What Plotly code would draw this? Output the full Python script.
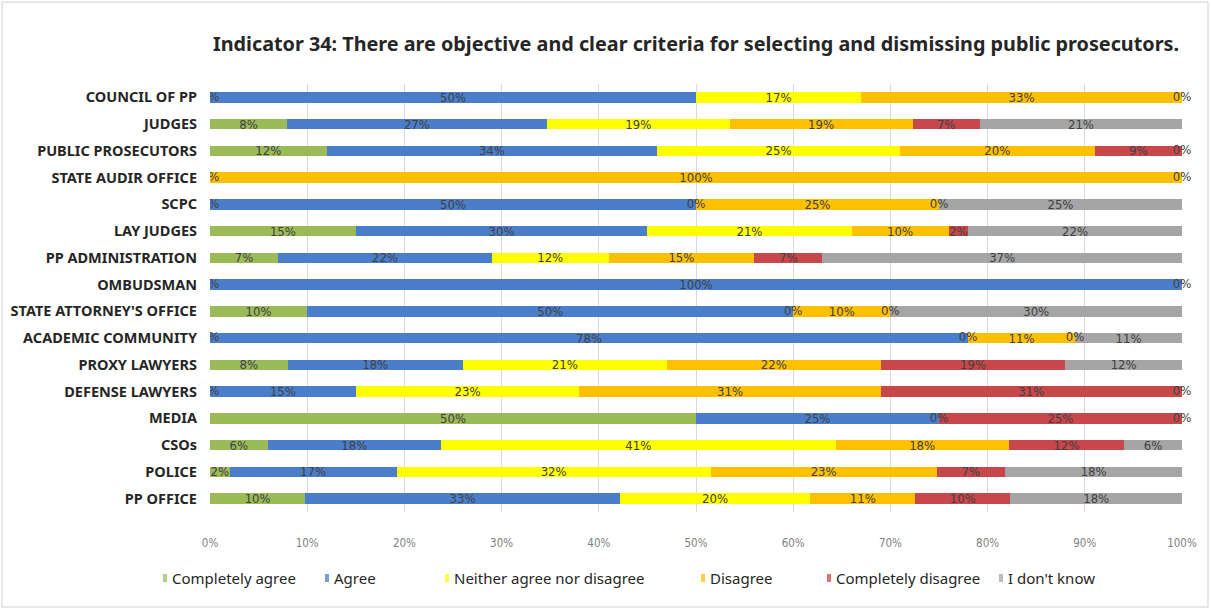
import plotly.graph_objects as go

# Survey responses per stakeholder group (percent of respondents); None = no answer recorded
categories = [
    "COUNCIL OF PP", "JUDGES", "PUBLIC PROSECUTORS", "STATE AUDIR OFFICE", "SCPC",
    "LAY JUDGES", "PP ADMINISTRATION", "OMBUDSMAN", "STATE ATTORNEY'S OFFICE",
    "ACADEMIC COMMUNITY", "PROXY LAWYERS", "DEFENSE LAWYERS", "MEDIA", "CSOs",
    "POLICE", "PP OFFICE",
]
completely_agree = [0, 8, 12, 0, 0, 15, 7, 0, 10, 0, 8, 0, 50, 6, 2, 10]
agree = [50, 27, 34, None, 50, 30, 22, 100, 50, 78, 18, 15, 25, 18, 17, 33]
neither = [17, 19, 25, None, 0, 21, 12, None, 0, 0, 21, 23, 0, 41, 32, 20]
disagree = [33, 19, 20, 100, 25, 10, 15, None, 10, 11, 22, 31, None, 18, 23, 11]
completely_disagree = [0, 7, 9, 0, 0, 2, 7, None, 0, 0, 19, 31, 25, 12, 7, 10]
dont_know = [None, 21, 0, None, 25, 22, 37, 0, 30, 11, 12, 0, 0, 6, 18, 18]

series_names = ["Completely agree", "Agree", "Neither agree nor disagree",
                "Disagree", "Completely disagree", "I don't know"]
series_values = [completely_agree, agree, neither, disagree, completely_disagree, dont_know]
series_colors = ["#9BBB59", "#4A7ECB", "#FFFF00", "#FFC000", "#C8474A", "#A5A5A5"]
x_ticks = list(range(0, 101, 10))
x_tick_labels = [f"{t}%" for t in x_ticks]

W, H = 1211, 610
ML, MR, MT, MB = 210, 29, 84, 98
PW, PH = W - ML - MR, H - MT - MB

NARROW = "Liberation Sans Narrow, DejaVu Sans Condensed, Arial Narrow, sans-serif"
MAIN = "Noto Sans, Open Sans, sans-serif"
LABEL_COLOR = "#404040"


def px_to_paper_x(px):
    return (px - ML) / PW


def px_to_paper_y(py):
    return (H - MB - py) / PH


fig = go.Figure()

for name, vals, color in zip(series_names, series_values, series_colors):
    texts = [f"{v}%" if (v is not None and v > 0) else "" for v in vals]
    fig.add_trace(go.Bar(
        name=name,
        y=categories,
        x=vals,
        orientation="h",
        marker=dict(color=color, line=dict(width=0)),
        text=texts,
        textposition="inside",
        insidetextanchor="middle",
        textangle=0,
        constraintext="none",
        textfont=dict(family=NARROW, size=13, color=LABEL_COLOR),
        showlegend=False,
        hoverinfo="skip",
    ))

# Labels for zero-valued answers, placed where the (empty) segment sits
edge_x, edge_y, mid_x, mid_y = [], [], [], []
for r, cat in enumerate(categories):
    row = [s[r] for s in series_values]
    total = sum(v for v in row if v is not None)
    running = 0
    for v in row:
        if v is None:
            continue
        if v == 0:
            pos = running / total * 100
            if pos == 0:
                edge_x.append(pos)
                edge_y.append(cat)
            else:
                mid_x.append(pos)
                mid_y.append(cat)
        running += v

for xs, ys, clip in [(edge_x, edge_y, True), (mid_x, mid_y, False)]:
    fig.add_trace(go.Scatter(
        x=xs, y=ys, mode="text", text=["0%"] * len(xs),
        textposition="middle center",
        textfont=dict(family=NARROW, size=13, color=LABEL_COLOR),
        cliponaxis=clip, showlegend=False, hoverinfo="skip",
    ))

# Legend row below the axis: small colour key followed by the series name
legend_text_x = [170, 332, 452, 708, 834, 1006]
legend_y = 578
shapes = [dict(
    type="rect", xref="paper", yref="paper",
    x0=px_to_paper_x(2), x1=px_to_paper_x(1208),
    y0=px_to_paper_y(607), y1=px_to_paper_y(2),
    line=dict(color="#D0D0D0", width=1), fillcolor="rgba(0,0,0,0)",
    layer="below",
)]
annotations = []
for name, color, tx in zip(series_names, series_colors, legend_text_x):
    shapes.append(dict(
        type="rect", xref="paper", yref="paper",
        x0=px_to_paper_x(tx - 7), x1=px_to_paper_x(tx - 3),
        y0=px_to_paper_y(legend_y + 4), y1=px_to_paper_y(legend_y - 4),
        line=dict(width=0), fillcolor=color, opacity=0.75,
    ))
    annotations.append(dict(
        text=name, xref="paper", yref="paper",
        x=px_to_paper_x(tx), y=px_to_paper_y(legend_y),
        xanchor="left", yanchor="middle", showarrow=False,
        font=dict(family=MAIN, size=15, color="#262626"),
    ))

fig.update_layout(
    width=W, height=H,
    margin=dict(l=ML, r=MR, t=MT, b=MB),
    paper_bgcolor="white",
    plot_bgcolor="white",
    barmode="stack",
    barnorm="percent",
    bargap=0.6,
    showlegend=False,
    title=dict(
        text="Indicator 34: There are objective and clear criteria for selecting and dismissing public prosecutors.",
        x=0.5, xref="paper", xanchor="center",
        y=1 - 44 / H, yref="container", yanchor="middle",
        font=dict(family=MAIN, size=19.8, color="#262626", weight="bold"),
    ),
    xaxis=dict(
        # tiny headroom so normalised rows ending at 100% keep their labels
        range=[0, 100.001],
        tickvals=x_ticks,
        ticktext=x_tick_labels,
        showgrid=True, gridcolor="#D9D9D9", gridwidth=1,
        zeroline=False, showline=False, automargin=False,
        ticks="", ticklabelstandoff=22,
        tickfont=dict(family=NARROW, size=11.5, color="#7F7F7F"),
        fixedrange=True,
    ),
    yaxis=dict(
        range=[len(categories) - 0.5, -0.5],
        showgrid=False, zeroline=False, showline=False, automargin=False,
        ticks="", ticklabelstandoff=12,
        tickfont=dict(family=MAIN, size=14.5, color="#262626", weight="bold"),
        fixedrange=True,
    ),
    shapes=shapes,
    annotations=annotations,
)

fig.write_html("out.html")
